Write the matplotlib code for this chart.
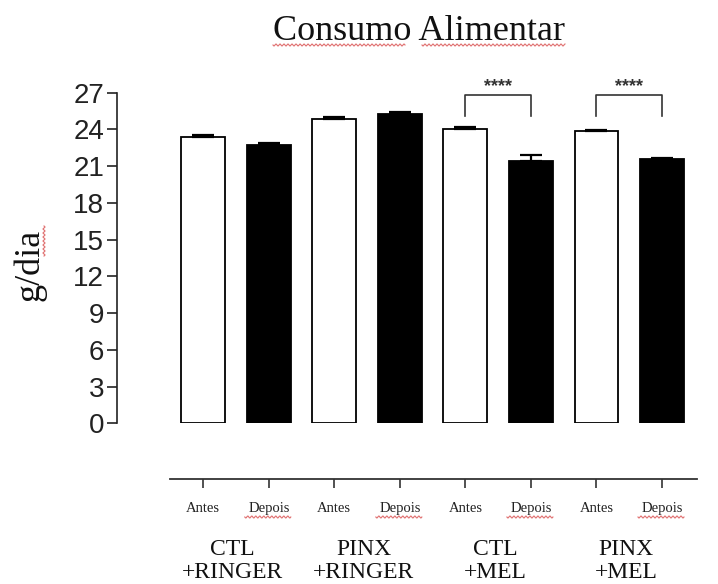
import numpy as np
import matplotlib
matplotlib.use("Agg")
import matplotlib.pyplot as plt
from matplotlib.transforms import blended_transform_factory

# ---- data ----
groups = ["CTL\n+RINGER", "PINX\n+RINGER", "CTL\n+MEL", "PINX\n+MEL"]
conditions = ["Antes", "Depois"]
values = [23.37, 22.75, 24.88, 25.29, 24.06, 21.46, 23.86, 21.55]
errors = [0.15, 0.15, 0.12, 0.15, 0.12, 0.45, 0.12, 0.12]
yticks = [0, 3, 6, 9, 12, 15, 18, 21, 24, 27]
sig_pairs = [(4, 5), (6, 7)]
sig_text = "****"
bracket_low = 25.1
bracket_high = 26.8
star_y = 27.5

W, H = 718, 584
fig = plt.figure(figsize=(W / 100, H / 100), dpi=100)
fig.patch.set_facecolor("white")

serif = ["Liberation Serif", "DejaVu Serif"]
sans = ["Liberation Sans", "DejaVu Sans"]

ax = fig.add_axes([116.7 / W, 1 - 423.3 / H, (700 - 116.7) / W, (423.3 - 92.7) / H])
x = np.arange(len(values))
ax.set_xlim(-1.321, 7.58)
ax.set_ylim(0, 27)

facec = ["white" if i % 2 == 0 else "black" for i in range(len(values))]
ax.bar(x, values, width=0.67, color=facec, edgecolor="black", linewidth=1.3, zorder=2)
ax.errorbar(x, values, yerr=[np.zeros(len(errors)), errors], fmt="none",
            ecolor="black", elinewidth=1.6, capsize=8, capthick=1.6, zorder=3)

for s in ["top", "right", "bottom"]:
    ax.spines[s].set_visible(False)
ax.spines["left"].set_linewidth(1.2)
ax.spines["left"].set_color("#222222")
ax.set_xticks([])
ax.set_yticks(yticks)
ax.tick_params(axis="y", direction="out", length=7, width=1.2, labelsize=20, pad=2,
               color="#222222")
for lab in ax.get_yticklabels():
    lab.set_fontfamily(sans)
    lab.set_color("#222222")

# significance brackets
for a, b in sig_pairs:
    ax.plot([a, a, b, b], [bracket_low, bracket_high, bracket_high, bracket_low],
            color="#333333", lw=1.2, clip_on=False, zorder=4)
    ax.text((a + b) / 2, star_y, sig_text, ha="center", va="center",
            fontsize=13, fontweight="bold", fontfamily=sans, color="#333333",
            clip_on=False)

# bottom category axis
ax2 = fig.add_axes([116.7 / W, 1 - 479 / H, (700 - 116.7) / W, 0.001])
ax2.set_xlim(ax.get_xlim())
ax2.set_facecolor("none")
for s in ["top", "right", "left"]:
    ax2.spines[s].set_visible(False)
ax2.spines["bottom"].set_linewidth(1.3)
ax2.spines["bottom"].set_color("#333333")
ax2.spines["bottom"].set_bounds(x[0] - 0.51, x[-1] + 0.53)
ax2.set_yticks([])
ax2.set_xticks(x)
ax2.set_xticklabels([conditions[i % 2] for i in range(len(values))])
ax2.tick_params(axis="x", direction="out", length=6.5, width=1.2, labelsize=10.5,
                pad=10, colors="#333333")
for lab in ax2.get_xticklabels():
    lab.set_fontfamily(serif)
    lab.set_color("#222222")

tr = blended_transform_factory(ax2.transData, fig.transFigure)
for g, name in enumerate(groups):
    ax2.text(2 * g + 0.45, 1 - 561 / H, name, transform=tr, ha="center", va="center",
             fontsize=17, fontfamily=serif, linespacing=1.1, color="#111111")

# title and y label
fig.text(419 / W, 1 - 31.7 / H, "Consumo Alimentar", ha="center", va="center",
         fontsize=26, fontfamily=serif, color="#111111")
fig.text(30 / W, 1 - 265 / H, "g/dia", ha="center", va="center", rotation=90,
         fontsize=26, fontfamily=serif, color="#111111")


# spell-check squiggles (decoration)
def squiggle(p0, p1, fixed, vertical=False):
    t = np.linspace(p0, p1, int(abs(p1 - p0) * 2) + 2)
    w = fixed + 1.0 * np.sin((t - p0) / 4.0 * 2 * np.pi)
    if vertical:
        xs, ys = w, t
    else:
        xs, ys = t, w
    fig.add_artist(plt.Line2D(xs / W, 1 - ys / H, transform=fig.transFigure,
                              color="#e07070", lw=0.8))


squiggle(273, 405, 45)
squiggle(422, 565, 45)
squiggle(226, 256, 44, vertical=True)
for i in range(1, len(values), 2):
    cx = ax2.transData.transform((i, 0))[0]
    squiggle(cx - 24, cx + 22, 517)

fig.savefig("out.png", dpi=100, facecolor="white")
